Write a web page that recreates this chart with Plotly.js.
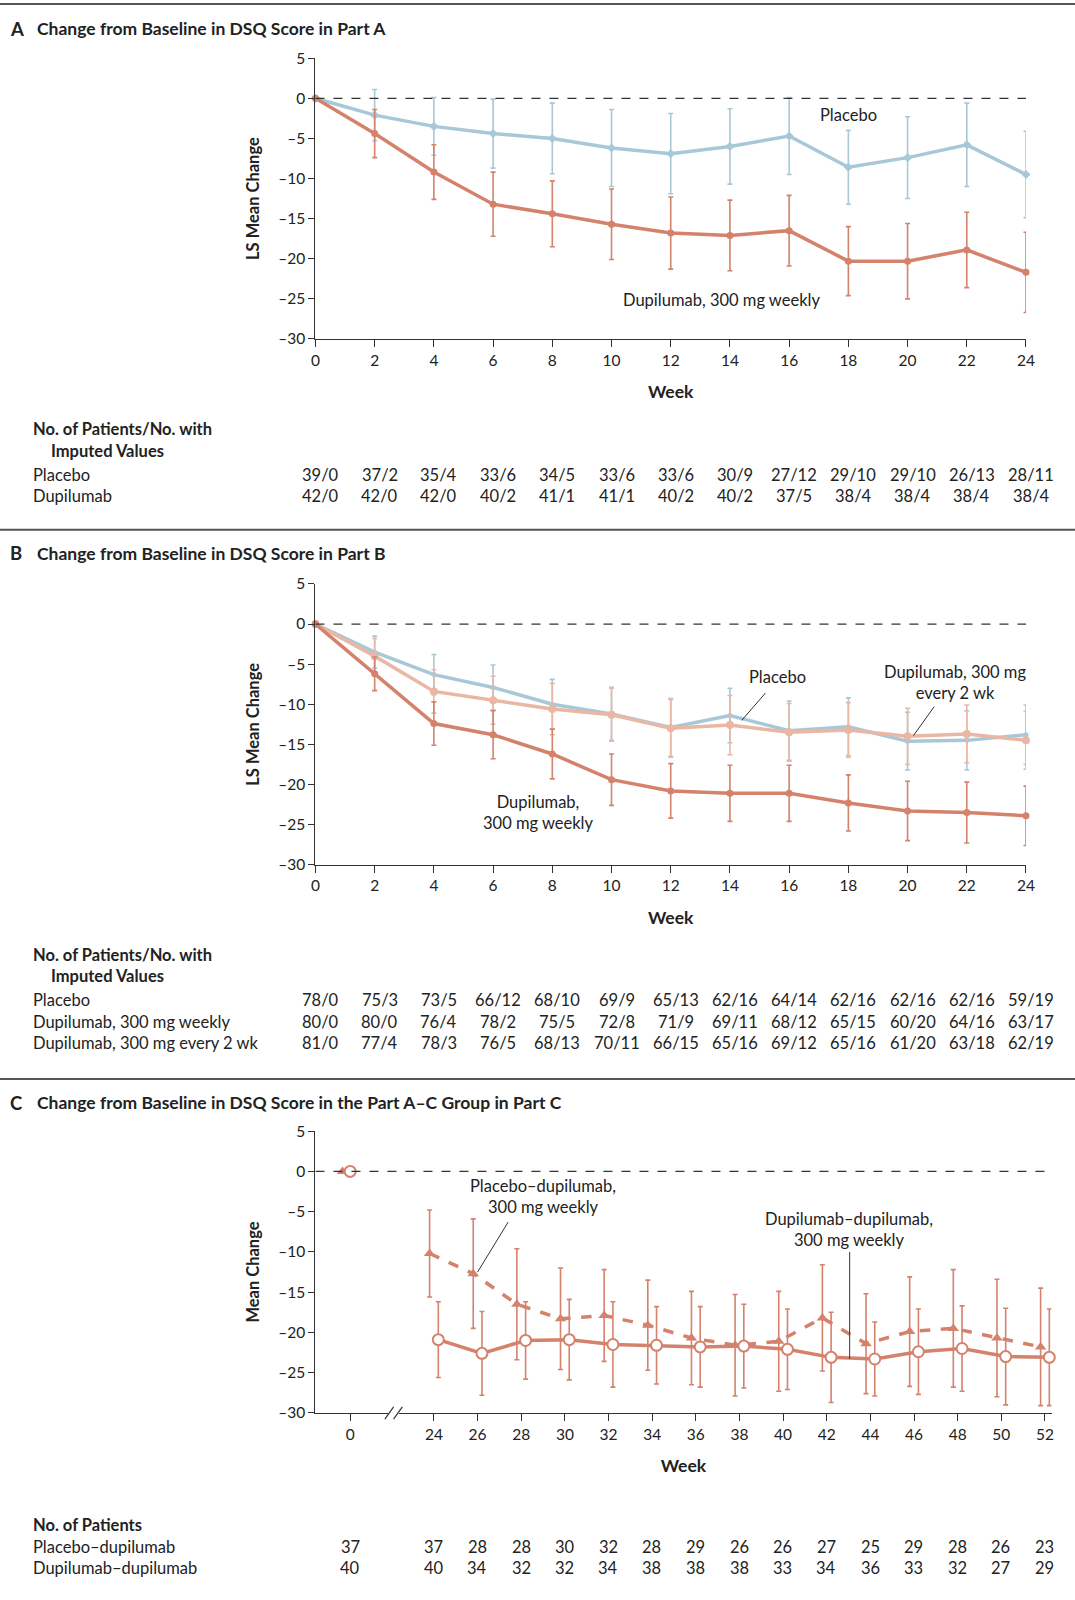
<!DOCTYPE html>
<html><head><meta charset="utf-8">
<script src="https://cdn.plot.ly/plotly-3.0.1.min.js"></script>
<style>body{margin:0;background:#fff}</style>
</head><body>
<div id="chart" style="width:1075px;height:1600px"></div>
<script>
// ---- data ----
const weeksAB = [0,2,4,6,8,10,12,14,16,18,20,22,24];
const aPlacebo = [0,-2.1,-3.5,-4.4,-5.0,-6.2,-6.9,-6.0,-4.7,-8.6,-7.4,-5.8,-9.5];
const aPlaceboErr = [0,3.2,3.6,4.3,4.4,4.8,5.0,4.7,4.8,4.6,5.1,5.2,5.4];
const aDupi = [0,-4.4,-9.2,-13.2,-14.4,-15.7,-16.8,-17.1,-16.5,-20.3,-20.3,-18.9,-21.7];
const aDupiErr = [0,3.0,3.4,4.0,4.1,4.4,4.5,4.4,4.4,4.3,4.7,4.7,5.0];

const bPlacebo = [0,-3.5,-6.3,-7.9,-10.0,-11.2,-12.9,-11.4,-13.3,-12.8,-14.6,-14.5,-13.8];
const bPlaceboErr = [0,2.0,2.5,2.8,3.1,3.3,3.6,3.4,3.7,3.6,3.6,3.7,3.7];
const bQ2w = [0,-4.0,-8.4,-9.5,-10.6,-11.3,-13.0,-12.6,-13.5,-13.2,-14.0,-13.7,-14.5];
const bQ2wErr = [0,2.2,2.7,3.0,3.2,3.3,3.6,3.7,3.6,3.4,3.5,3.6,3.6];
const bWeekly = [0,-6.2,-12.4,-13.8,-16.2,-19.4,-20.8,-21.1,-21.1,-22.3,-23.3,-23.5,-23.9];
const bWeeklyErr = [0,2.1,2.7,3.0,3.1,3.2,3.4,3.5,3.5,3.5,3.7,3.8,3.7];

const weeksC = [0,24,26,28,30,32,34,36,38,40,42,44,46,48,50,52];
const cPlaDup = [0,-10.2,-12.7,-16.5,-18.3,-17.9,-19.1,-20.7,-21.6,-21.1,-18.2,-21.4,-19.9,-19.5,-20.7,-21.8];
const cPlaDupErr = [0,5.4,6.8,6.9,6.3,5.7,5.6,5.8,6.3,6.2,6.6,6.2,6.8,7.3,7.3,7.3];
const cDupDup = [0,-20.9,-22.6,-21.0,-20.9,-21.5,-21.6,-21.8,-21.7,-22.1,-23.1,-23.3,-22.4,-22.0,-23.0,-23.1];
const cDupDupErr = [0,4.7,5.2,4.8,5.0,5.3,4.8,5.0,5.2,5.0,5.6,4.6,5.3,5.3,6.0,6.0];

const aRows = {
  'Placebo': ['39/0','37/2','35/4','33/6','34/5','33/6','33/6','30/9','27/12','29/10','29/10','26/13','28/11'],
  'Dupilumab': ['42/0','42/0','42/0','40/2','41/1','41/1','40/2','40/2','37/5','38/4','38/4','38/4','38/4']
};
const bRows = {
  'Placebo': ['78/0','75/3','73/5','66/12','68/10','69/9','65/13','62/16','64/14','62/16','62/16','62/16','59/19'],
  'Dupilumab, 300 mg weekly': ['80/0','80/0','76/4','78/2','75/5','72/8','71/9','69/11','68/12','65/15','60/20','64/16','63/17'],
  'Dupilumab, 300 mg every 2 wk': ['81/0','77/4','78/3','76/5','68/13','70/11','66/15','65/16','69/12','65/16','61/20','63/18','62/19']
};
const cRows = {
  'Placebo–dupilumab': ['37','37','28','28','30','32','28','29','26','26','27','25','29','28','26','23'],
  'Dupilumab–dupilumab': ['40','40','34','32','32','34','38','38','38','33','34','36','33','32','27','29']
};

// ---- styling ----
const BLUE = '#a8c8d8', SALMON = '#d4826c', LIGHT = '#e9b7a3';
const FONT = 'Lato, "Open Sans", sans-serif';
const W = 1075, H = 1600, K = 1075 / 1053;   // layout measured on a 1053-wide copy
const px = x => x * K / W, py = y => 1 - y * K / H;
// week 0 in panel C is drawn left of an axis break
const cPos = w => w === 0 ? 20.16 : w;
const cX = weeksC.map(cPos);

function tr(x, y, err, color, sym, axis, opts) {
  return Object.assign({
    type: 'scatter', mode: 'lines+markers', x: x, y: y, cliponaxis: false,
    xaxis: 'x' + axis, yaxis: 'y' + axis, showlegend: false,
    line: {color: color, width: 3.5},
    marker: {symbol: sym, size: 7, color: color},
    error_y: {type: 'data', array: err, color: color, thickness: 1.6, width: 2.5}
  }, opts || {});
}
const tri = {symbol: 'triangle-up', size: 10, color: SALMON};
const ring = {symbol: 'circle', size: 11, color: '#fff', line: {color: SALMON, width: 2}};

const data = [
  tr(weeksAB, aPlacebo, aPlaceboErr, BLUE, 'diamond', ''),
  tr(weeksAB, aDupi, aDupiErr, SALMON, 'circle', ''),
  tr(weeksAB, bPlacebo, bPlaceboErr, BLUE, 'circle', '2', {marker: {size: 5, color: BLUE}}),
  tr(weeksAB, bQ2w, bQ2wErr, LIGHT, 'square', '2', {marker: {size: 8, color: LIGHT}}),
  tr(weeksAB, bWeekly, bWeeklyErr, SALMON, 'circle', '2'),
  // panel C: follow-up weeks (24-52) as lines, baseline as lone markers
  tr(cX.slice(1).map(v => v - 0.2), cPlaDup.slice(1), cPlaDupErr.slice(1), SALMON, 'triangle-up', '3',
     {line: {color: SALMON, width: 3.5, dash: 'dash'}, marker: tri}),
  tr(cX.slice(1).map(v => v + 0.2), cDupDup.slice(1), cDupDupErr.slice(1), SALMON, 'circle', '3', {marker: ring}),
  tr([cX[0] - 0.35], [cPlaDup[0]], [0], SALMON, 'triangle-up', '3', {mode: 'markers', marker: tri, error_y: {visible: false}}),
  tr([cX[0]], [cDupDup[0]], [0], SALMON, 'circle', '3', {mode: 'markers', marker: ring, error_y: {visible: false}})
];

function yax(top, bot, anchor, title) {
  return {domain: [py(bot), py(top)], range: [-30, 5], tickvals: [5,0,-5,-10,-15,-20,-25,-30],
    ticktext: ['5','0','–5','–10','–15','–20','–25','–30'], ticks: 'outside', ticklen: 6,
    showline: true, linecolor: '#333', linewidth: 1.2, tickcolor: '#333', showgrid: false,
    zeroline: false, anchor: anchor, tickfont: {size: 15.5, color: '#222'},
    title: {text: '<b>' + title + '</b>', font: {size: 16.5}, standoff: 14}};
}
function xax(range, tickvals, ticktext, anchor, x0, x1) {
  return {domain: [px(x0), px(x1)], range: range, tickvals: tickvals, ticktext: ticktext,
    ticks: 'outside', ticklen: 7, showline: true, linecolor: '#333', linewidth: 1.2, tickcolor: '#333',
    showgrid: false, zeroline: false, anchor: anchor, tickfont: {size: 15.5, color: '#222'},
    title: {text: '<b>Week</b>', font: {size: 17.5, color: '#222'}, standoff: 18}};
}

const layout = {
  width: W, height: H, margin: {l: 0, r: 0, t: 0, b: 0},
  paper_bgcolor: '#fff', plot_bgcolor: 'rgba(0,0,0,0)', font: {family: FONT, color: '#222'},
  xaxis: xax([0, 24], weeksAB, weeksAB.map(String), 'y', 309, 1005),
  yaxis: yax(57, 332, 'x', 'LS Mean Change'),
  xaxis2: xax([0, 24], weeksAB, weeksAB.map(String), 'y2', 309, 1005),
  yaxis2: yax(572, 847, 'x2', 'LS Mean Change'),
  xaxis3: xax([18.57, 52.3], cX, weeksC.map(String), 'y3', 309, 1030),
  yaxis3: yax(1108, 1384, 'x3', 'Mean Change'),
  shapes: [], annotations: []
};
const S = layout.shapes, A = layout.annotations;

// separator rules
[[4, 2], [519, 2], [1057, 2]].forEach(([y, w]) =>
  S.push({type: 'line', xref: 'paper', yref: 'paper', x0: 0, x1: px(1053), y0: py(y), y1: py(y), line: {color: '#555', width: w}}));
// zero reference lines
S.push({type: 'line', xref: 'x', yref: 'y', x0: 0, x1: 24, y0: 0, y1: 0, line: {color: '#333', width: 1.2, dash: 'dash'}});
S.push({type: 'line', xref: 'x2', yref: 'y2', x0: 0, x1: 24, y0: 0, y1: 0, line: {color: '#333', width: 1.2, dash: 'dash'}});
S.push({type: 'line', xref: 'x3', yref: 'y3', x0: 18.57, x1: 52, y0: 0, y1: 0, line: {color: '#333', width: 1.2, dash: 'dash'}});
// axis break in panel C
S.push({type: 'rect', xref: 'x3', yref: 'paper', x0: 21.9, x1: 22.4, y0: py(1390), y1: py(1380), fillcolor: '#fff', line: {width: 0}});
[21.75, 22.15].forEach(x => S.push({type: 'line', xref: 'x3', yref: 'paper', x0: x, x1: x + 0.4, y0: py(1390), y1: py(1378), line: {color: '#333', width: 1.2}}));
// leader lines
const lead = (ax, x0, y0, x1, y1) => S.push({type: 'line', xref: 'x' + ax, yref: 'y' + ax, x0, y0, x1, y1, line: {color: '#333', width: 1}});
lead('2', 15.2, -8.6, 14.4, -12.0);
lead('2', 20.9, -10.3, 20.2, -13.9);
lead('3', 27.4, -6.3, 26.0, -12.5);
lead('3', 43.05, -10.0, 43.05, -23.3);

// panel headings
const head = (y, letter, text) => {
  A.push({xref: 'paper', yref: 'paper', x: px(8), y: py(y), xanchor: 'left', yanchor: 'middle', showarrow: false,
    text: '<b>' + letter + '</b>', font: {size: 18.5}});
  A.push({xref: 'paper', yref: 'paper', x: px(34), y: py(y), xanchor: 'left', yanchor: 'middle', showarrow: false,
    text: '<b>' + text + '</b>', font: {size: 17.5}});
};
head(28, 'A', 'Change from Baseline in DSQ Score in Part A');
head(542, 'B', 'Change from Baseline in DSQ Score in Part B');
head(1080, 'C', 'Change from Baseline in DSQ Score in the Part A–C Group in Part C');

// in-plot labels
const lab = (ax, x, y, text) => A.push({xref: 'x' + ax, yref: 'y' + ax, x, y, text, showarrow: false, font: {size: 16.5}, align: 'center'});
lab('', 18.0, -2.1, 'Placebo');
lab('', 13.7, -25.2, 'Dupilumab, 300 mg weekly');
lab('2', 15.6, -6.6, 'Placebo');
lab('2', 21.6, -7.3, 'Dupilumab, 300 mg<br>every 2 wk');
lab('2', 7.55, -23.5, 'Dupilumab,<br>300 mg weekly');
lab('3', 29.0, -3.1, 'Placebo–dupilumab,<br>300 mg weekly');
lab('3', 43.0, -7.2, 'Dupilumab–dupilumab,<br>300 mg weekly');

// tables (column centres follow the axis ticks, placed in paper space so nothing is hidden)
const abCol = w => px(309 + w * 29 + 5);
const cCol = p => px(425 + (p - 24) * 21.36);
const txt = (x, y, text, anchor, bold) => A.push({xref: 'paper', yref: 'paper', x, y: py(y), text: bold ? '<b>' + text + '</b>' : text,
  xanchor: anchor, yanchor: 'middle', showarrow: false, font: {size: 16.5}});
function table(col, xs, headY, headLines, rows, rowY0) {
  headLines.forEach((h, i) => txt(px(i ? 48 : 30), headY + i * 21.5, h, 'left', true));
  Object.keys(rows).forEach((name, r) => {
    const y = rowY0 + r * 21;
    txt(px(30), y, name, 'left');
    rows[name].forEach((v, i) => txt(col(xs[i]), y, v, 'center'));
  });
}
table(abCol, weeksAB, 420, ['No. of Patients/No. with', 'Imputed Values'], aRows, 465);
table(abCol, weeksAB, 935, ['No. of Patients/No. with', 'Imputed Values'], bRows, 980);
table(cCol, cX, 1494, ['No. of Patients'], cRows, 1515);

Plotly.newPlot('chart', data, layout, {staticPlot: true});
</script>
</body></html>
